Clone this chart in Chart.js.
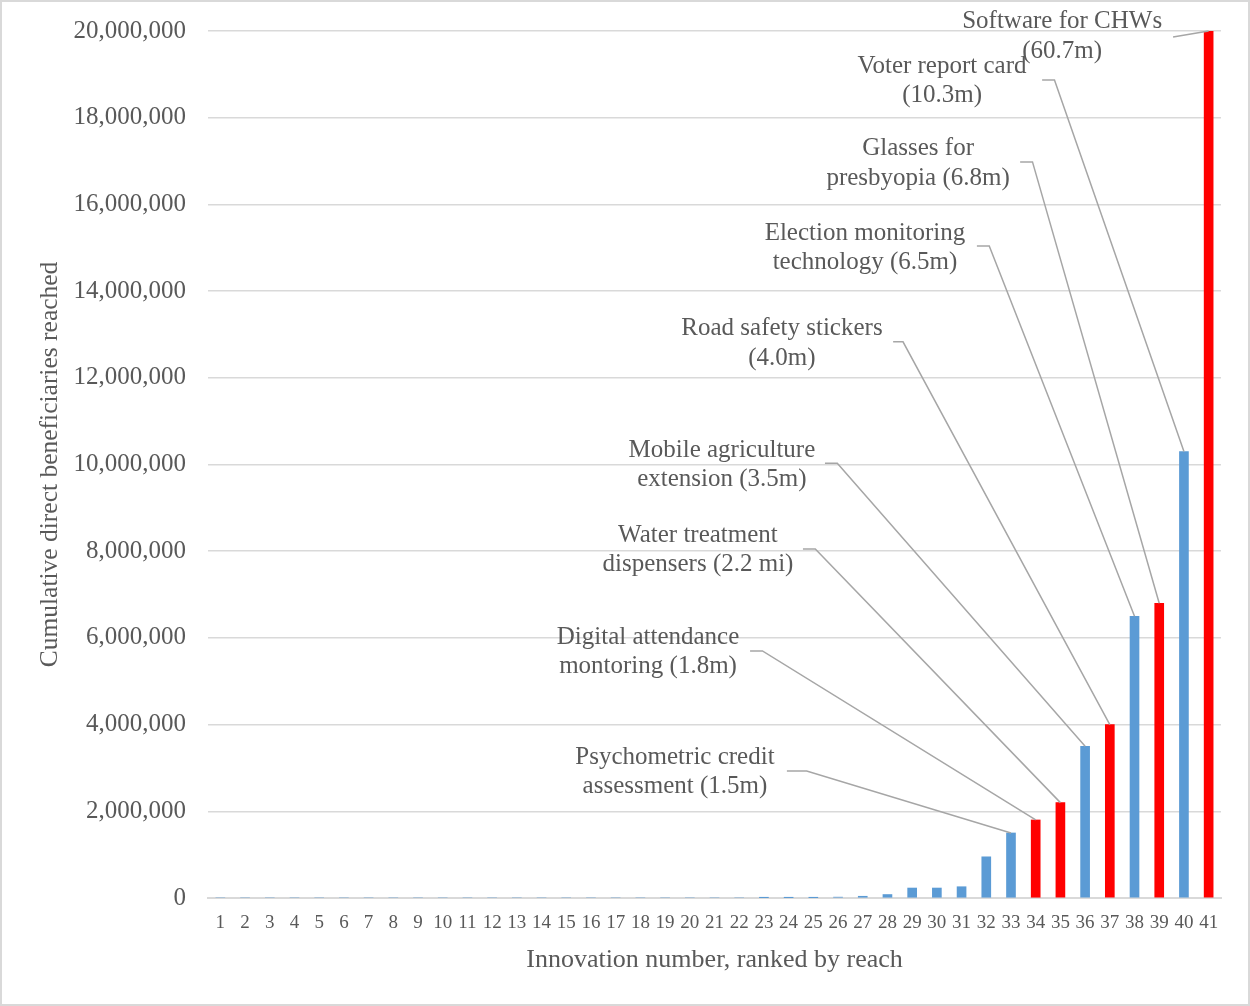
<!DOCTYPE html>
<html>
<head>
<meta charset="utf-8">
<script src="https://cdn.jsdelivr.net/npm/chart.js@4/dist/chart.umd.min.js"></script>
<style>
html,body{margin:0;padding:0;background:#fff;}
#wrap{width:1250px;height:1006px;position:relative;}
</style>
</head>
<body>
<div id="wrap"><canvas id="c" width="1250" height="1006"></canvas></div>
<script>
// ---- data ----
const categories = ["1","2","3","4","5","6","7","8","9","10","11","12","13","14","15","16","17","18","19","20","21","22","23","24","25","26","27","28","29","30","31","32","33","34","35","36","37","38","39","40","41"];
const reach = [0,0,0,0,0,0,0,0,0,0,0,0,0,0,0,0,0,0,0,0,0,0,1000,5000,8000,20000,40000,80000,230000,230000,260000,950000,1500000,1800000,2200000,3500000,4000000,6500000,6800000,10300000,60700000];
const highlighted = [34,35,37,39,41];
const yTicks = [0,2000000,4000000,6000000,8000000,10000000,12000000,14000000,16000000,18000000,20000000];
// annotations: bar number, text lines, label centre (category index, value), leader start (category index, value)
const annLabels = [
  ["Psychometric credit","assessment (1.5m)"],
  ["Digital attendance","montoring (1.8m)"],
  ["Water treatment","dispensers (2.2 mi)"],
  ["Mobile agriculture","extension (3.5m)"],
  ["Road safety stickers","(4.0m)"],
  ["Election monitoring","technology (6.5m)"],
  ["Glasses for","presbyopia (6.8m)"],
  ["Voter report card","(10.3m)"],
  ["Software for CHWs","(60.7m)"]
];
const annBars = [33,34,35,36,37,38,39,40,41];
const annTextX = [18.40,17.31,19.33,20.30,22.73,26.09,28.24,29.21,34.07];
const annTextY = [3250000,6020000,8370000,10330000,13130000,15340000,17280000,19190000,20210000];
const annLineX = [22.93,21.44,23.58,24.47,27.23,30.62,32.37,33.26,38.56];
const annLineY = [2930000,5700000,8050000,10030000,12830000,15040000,16980000,18870000,19860000];
const annElbow = [0.8,0.5,0.5,0.5,0.4,0.5,0.5,0.5,0];

const BLUE = '#5B9BD5', RED = '#FF0000', TXT = '#595959', GRID = '#D9D9D9';
const FONT = "'Liberation Serif', 'Times New Roman', serif";

const colors = categories.map(c => highlighted.includes(Number(c)) ? RED : BLUE);

const bgPlugin = {
  id: 'bg',
  beforeDraw(chart) {
    const ctx = chart.ctx;
    ctx.save();
    ctx.fillStyle = '#fff';
    ctx.fillRect(0, 0, chart.width, chart.height);
    ctx.strokeStyle = GRID;
    ctx.lineWidth = 2;
    ctx.strokeRect(1, 1, chart.width - 2, chart.height - 2);
    ctx.restore();
  }
};

const annPlugin = {
  id: 'ann',
  afterDatasetsDraw(chart) {
    const ctx = chart.ctx;
    const xs = chart.scales.x, ys = chart.scales.y;
    const meta = chart.getDatasetMeta(0);
    ctx.save();
    ctx.strokeStyle = '#A6A6A6';
    ctx.lineWidth = 1.5;
    ctx.fillStyle = TXT;
    ctx.font = "25px " + FONT;
    ctx.textAlign = 'center';
    ctx.textBaseline = 'middle';
    for (let k = 0; k < annLabels.length; k++) {
      const bar = meta.data[annBars[k] - 1];
      const bx = bar.x;
      const by = Math.max(bar.y, chart.chartArea.top);
      const sx = xs.getPixelForValue(annLineX[k]);
      const sy = ys.getPixelForValue(annLineY[k]);
      const ex = xs.getPixelForValue(annLineX[k] + annElbow[k]);
      ctx.beginPath();
      ctx.moveTo(sx, sy);
      ctx.lineTo(ex, sy);
      ctx.lineTo(bx, by);
      ctx.stroke();
      const tx = xs.getPixelForValue(annTextX[k]);
      const ty = ys.getPixelForValue(annTextY[k]);
      annLabels[k].forEach((line, j) => ctx.fillText(line, tx, ty + j * 29.5));
    }
    ctx.restore();
  }
};

new Chart(document.getElementById('c'), {
  type: 'bar',
  data: {
    labels: categories,
    datasets: [{
      data: reach,
      backgroundColor: colors,
      barThickness: 9,
      borderWidth: 0
    }]
  },
  options: {
    responsive: false,
    animation: false,
    layout: { padding: { top: 31, right: 29, left: 0, bottom: 0 } },
    plugins: { legend: { display: false }, tooltip: { enabled: false } },
    scales: {
      x: {
        afterFit(s) { s.height = 108; s.paddingLeft = 0; s.paddingRight = 0; },
        grid: { display: false, drawTicks: false },
        border: { display: true, color: GRID, width: 2 },
        ticks: { color: TXT, font: { family: FONT, size: 19 }, autoSkip: false, maxRotation: 0, padding: 14 },
        title: { display: true, text: 'Innovation number, ranked by reach', color: TXT, font: { family: FONT, size: 26 }, padding: { top: 4, bottom: 30 } }
      },
      y: {
        min: 0, max: 20000000,
        afterBuildTicks(s) { s.ticks = yTicks.map(v => ({ value: v })); },
        afterFit(s) { s.width = 208; s.paddingTop = 0; s.paddingBottom = 0; },
        grid: { color: GRID, lineWidth: 1.5, drawTicks: false },
        border: { display: false },
        ticks: { color: TXT, font: { family: FONT, size: 25 }, padding: 22, callback: v => v.toLocaleString('en-US') },
        title: { display: true, text: 'Cumulative direct beneficiaries reached', color: TXT, font: { family: FONT, size: 25.5 }, padding: { top: 35, bottom: 0 } }
      }
    }
  },
  plugins: [bgPlugin, annPlugin]
});
</script>
</body>
</html>
